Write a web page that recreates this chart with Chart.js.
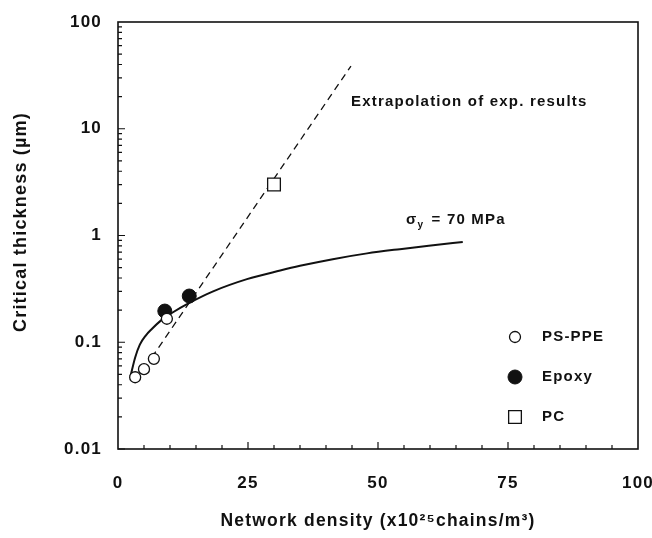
<!DOCTYPE html>
<html>
<head>
<meta charset="utf-8">
<script src="https://cdn.jsdelivr.net/npm/chart.js@4/dist/chart.umd.min.js"></script>
<style>
  html, body { margin: 0; padding: 0; background: #fff; }
  #wrap { width: 652px; height: 538px; }
</style>
</head>
<body>
<div id="wrap"><canvas id="chart-thickness"></canvas></div>
<script>
// values
const psPpeX = [3.3, 5.0, 6.9, 9.4];
const psPpeY = [0.047, 0.056, 0.070, 0.166];
const epoxyX = [9.0, 13.7];
const epoxyY = [0.196, 0.271];
const pcX = [30];
const pcY = [3.0];
const extrapX = [6.5, 44.8];
const extrapY = [0.072, 38.7];
const curveX = [2.4, 3.3, 4.2, 5.3, 6.5, 8.4, 10.5, 13.8, 18.3, 24.8, 31.2, 35, 41.3, 47.9, 54.2, 60.6, 66.3];
const curveY = [0.048, 0.072, 0.095, 0.115, 0.133, 0.162, 0.190, 0.235, 0.300, 0.39, 0.47, 0.52, 0.60, 0.68, 0.745, 0.81, 0.87];
const xTicks = [0, 25, 50, 75, 100];
const yTicks = [0.01, 0.1, 1, 10, 100];
const yTickLabels = ['0.01', '0.1', '1', '10', '100'];

const toPoints = (xs, ys) => xs.map((x, i) => ({ x: x, y: ys[i] }));
const fontFamily = '"Liberation Sans", Arial, sans-serif';
const spacing = '1.2px';

const chartEl = document.getElementById('chart-thickness');

const framePlugin = {
    id: 'frame',
    beforeUpdate(chart) { chart.ctx.letterSpacing = spacing; },
    beforeDraw(chart) { chart.ctx.letterSpacing = spacing; },
    afterDraw(chart) {
        const ctx = chart.ctx;
        const area = chart.chartArea;
        const xs = chart.scales.x;
        const ys = chart.scales.y;
        ctx.save();
        ctx.strokeStyle = '#111';
        ctx.lineWidth = 1.6;
        ctx.strokeRect(area.left, area.top, area.right - area.left, area.bottom - area.top);

        // inward ticks
        ctx.lineWidth = 1.2;
        ctx.beginPath();
        for (let v = 5; v < 100; v += 5) {
            const px = xs.getPixelForValue(v);
            const len = v % 25 === 0 ? 7 : 4;
            ctx.moveTo(px, area.bottom);
            ctx.lineTo(px, area.bottom - len);
        }
        for (let d = 0; d < yTicks.length - 1; d++) {
            for (let m = 1; m <= 9; m++) {
                const v = yTicks[d] * m;
                const py = ys.getPixelForValue(v);
                const len = m === 1 ? 7 : 4;
                ctx.moveTo(area.left, py);
                ctx.lineTo(area.left + len, py);
            }
        }
        ctx.stroke();

        // y axis title
        ctx.fillStyle = '#111';
        ctx.textBaseline = 'middle';
        ctx.textAlign = 'center';
        ctx.font = 'bold 18px ' + fontFamily;
        ctx.save();
        ctx.translate(21, area.top + 200);
        ctx.rotate(-Math.PI / 2);
        ctx.fillText('Critical thickness (µm)', 0, 0);
        ctx.restore();

        // text annotations
        ctx.textAlign = 'left';
        ctx.font = 'bold 15px ' + fontFamily;
        ctx.fillText('Extrapolation of exp. results', area.left + 233, area.top + 80);

        const sx = area.left + 288, sy = area.top + 198;
        ctx.fillText('σ', sx, sy);
        let w = ctx.measureText('σ').width;
        ctx.font = 'bold 10px ' + fontFamily;
        ctx.fillText('y', sx + w, sy + 5);
        w += ctx.measureText('y').width + 2;
        ctx.font = 'bold 15px ' + fontFamily;
        ctx.fillText(' = 70 MPa', sx + w, sy);

        // legend
        const items = chart.data.datasets.filter(ds => ds.showInLegend);
        items.forEach((ds, i) => {
            const lx = area.left + 397;
            const ly = area.top + 315 + i * 40;
            ctx.fillStyle = ds.pointBackgroundColor;
            ctx.strokeStyle = ds.pointBorderColor;
            ctx.lineWidth = ds.pointBorderWidth;
            Chart.helpers.drawPoint(ctx, { pointStyle: ds.pointStyle, radius: ds.pointRadius, rotation: 0, borderWidth: ds.pointBorderWidth }, lx, ly);
            ctx.fillStyle = '#111';
            ctx.font = 'bold 15px ' + fontFamily;
            ctx.fillText(ds.label, lx + 27, ly);
        });
        ctx.restore();
    }
};

const thicknessChart = new Chart(chartEl, {
    type: 'scatter',
    data: {
        datasets: [
            {
                label: 'PS-PPE',
                data: toPoints(psPpeX, psPpeY),
                showInLegend: true,
                pointStyle: 'circle',
                pointRadius: 5.5,
                pointBackgroundColor: '#fff',
                pointBorderColor: '#111',
                pointBorderWidth: 1.3,
            },
            {
                label: 'Epoxy',
                data: toPoints(epoxyX, epoxyY),
                showInLegend: true,
                pointStyle: 'circle',
                pointRadius: 7,
                pointBackgroundColor: '#111',
                pointBorderColor: '#111',
                pointBorderWidth: 1,
            },
            {
                label: 'PC',
                data: toPoints(pcX, pcY),
                showInLegend: true,
                pointStyle: 'rect',
                pointRadius: 9,
                pointBackgroundColor: '#fff',
                pointBorderColor: '#111',
                pointBorderWidth: 1.3,
            },
            {
                label: 'Extrapolation of exp. results',
                data: toPoints(extrapX, extrapY),
                showLine: true,
                borderColor: '#111',
                borderWidth: 1.3,
                borderDash: [7, 5],
                pointRadius: 0,
            },
            {
                label: 'σy = 70 MPa',
                data: toPoints(curveX, curveY),
                showLine: true,
                borderColor: '#111',
                borderWidth: 2,
                cubicInterpolationMode: 'monotone',
                pointRadius: 0,
            },
        ]
    },
    options: {
        responsive: true,
        maintainAspectRatio: false,
        animation: false,
        layout: {
            padding: { top: 22, right: 14, left: 0, bottom: 0 }
        },
        plugins: {
            legend: { display: false },
            tooltip: { enabled: false }
        },
        scales: {
            x: {
                type: 'linear',
                min: 0,
                max: 100,
                afterBuildTicks(s) { s.ticks = xTicks.map(v => ({ value: v })); },
                afterFit(s) { s.height = 89; s.paddingLeft = 0; s.paddingRight = 0; },
                grid: { display: false },
                border: { display: false },
                ticks: {
                    color: '#111',
                    padding: 16,
                    maxRotation: 0,
                    font: { family: fontFamily, size: 17, weight: 'bold' }
                },
                title: {
                    display: true,
                    text: 'Network density (x10²⁵chains/m³)',
                    color: '#111',
                    padding: { top: 0, bottom: 6 },
                    font: { family: fontFamily, size: 17.5, weight: 'bold' }
                }
            },
            y: {
                type: 'logarithmic',
                min: 0.01,
                max: 100,
                afterBuildTicks(s) { s.ticks = yTicks.map(v => ({ value: v })); },
                afterFit(s) { s.width = 118; s.paddingTop = 0; s.paddingBottom = 0; },
                grid: { display: false },
                border: { display: false },
                ticks: {
                    color: '#111',
                    padding: 8,
                    autoSkip: false,
                    font: { family: fontFamily, size: 17, weight: 'bold' },
                    callback: (v) => yTickLabels[yTicks.indexOf(v)] ?? ''
                }
            }
        }
    },
    plugins: [framePlugin]
});
</script>
</body>
</html>
